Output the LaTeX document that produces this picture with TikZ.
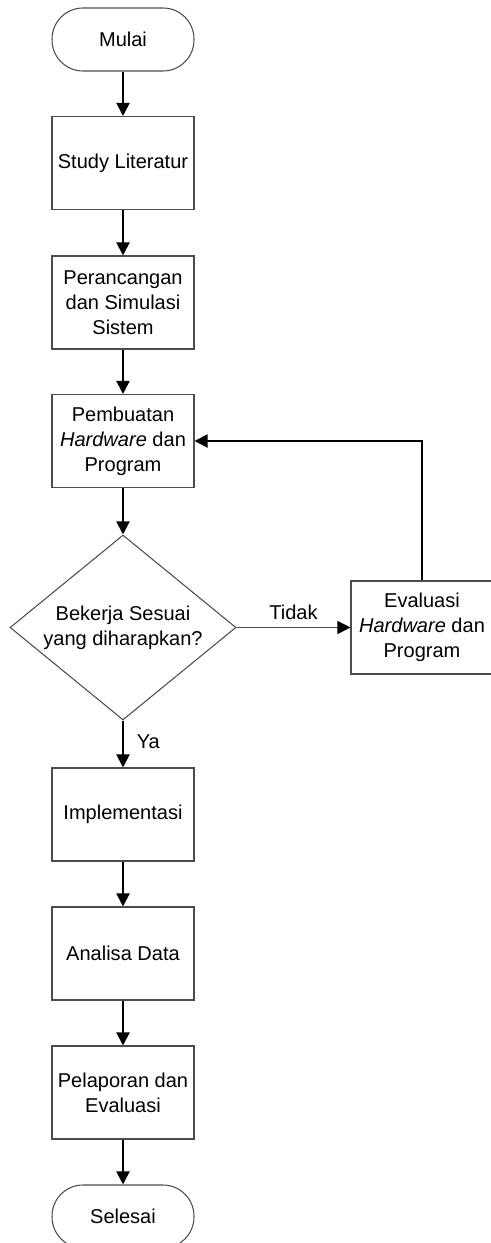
\documentclass[tikz,border=0pt]{standalone}
\usepackage{fontspec}
\setmainfont{Liberation Sans}
\usetikzlibrary{arrows.meta,shapes.geometric}
\begin{document}
\begin{tikzpicture}[x=0.02cm,y=-0.02cm,
  font=\fontsize{11.4}{14.2}\selectfont,
  proc/.style={draw=black!70,line width=0.6pt,rectangle,align=center,
    minimum width=2.84cm,minimum height=1.86cm,inner sep=0pt},
  term/.style={proc,minimum height=1.26cm,rounded corners=0.62cm},
  cond/.style={draw=black!70,line width=0.6pt,diamond,align=center,aspect=1.22,
    minimum width=4.52cm,minimum height=3.7cm,inner sep=0pt},
  flow/.style={line width=1.1pt,-{Triangle[length=0.26cm,width=0.26cm,color=black]}}]%
% flowchart, pixel grid of the original figure
\global\def\fcflow{\draw[flow]}
\global\def\fcstop{;}
\useasboundingbox (0,0) rectangle (490,1243);
\node[term] (mulai) at (123,39.5) {Mulai};
\node[proc] (study) at (123,163) {Study Literatur};
\node[proc] (ranc) at (123,302.5) {Perancangan\\dan Simulasi\\Sistem};
\node[proc] (buat) at (123,441) {Pembuatan\\\textit{Hardware} dan\\Program};
\node[cond] (cek) at (123,627.5) {Bekerja Sesuai\\yang diharapkan?};
\node[proc] (eval) at (422,627.5) {Evaluasi\\\textit{Hardware} dan\\Program};
\node[proc] (impl) at (123,814.5) {Implementasi};
\node[proc] (anal) at (123,953.5) {Analisa Data};
\node[proc] (lapor) at (123,1092.5) {Pelaporan dan\\Evaluasi};
\node[term] (selesai) at (123,1216.5) {Selesai};
\fcflow (mulai) -- (study)\fcstop
\fcflow (study) -- (ranc)\fcstop
\fcflow (ranc) -- (buat)\fcstop
\fcflow (buat) -- (cek)\fcstop
\fcflow (cek) -- node[right=4pt,pos=0.45] (ya) {Ya} (impl)\fcstop
\draw[flow,line width=0.6pt,draw=black!70] (cek.east) -- node[above=1pt] (tidak) {Tidak} (eval.west)\fcstop
\fcflow (eval.north) |- (buat.east)\fcstop
\fcflow (impl) -- (anal)\fcstop
\fcflow (anal) -- (lapor)\fcstop
\fcflow (lapor) -- (selesai)\fcstop
\end{tikzpicture}
\end{document}
